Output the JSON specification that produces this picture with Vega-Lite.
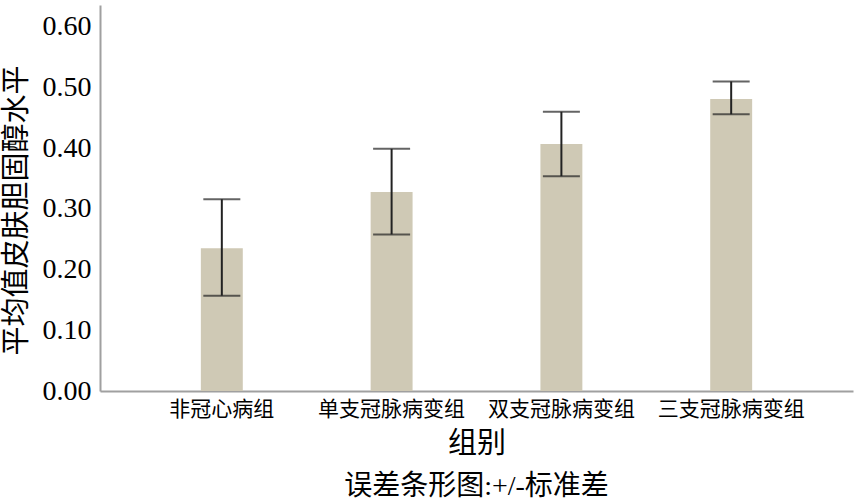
{
  "$schema": "https://vega.github.io/schema/vega-lite/v6.json",
  "width": 753,
  "height": 386,
  "autosize": "none",
  "padding": {"left": 100, "top": 5, "right": 9, "bottom": 113},
  "background": "white",
  "config": {"view": {"stroke": null}},
  "title": {
    "text": "误差条形图:+/-标准差",
    "orient": "bottom",
    "anchor": "middle",
    "font": "Liberation Serif, Noto Sans CJK SC",
    "fontSize": 28,
    "fontWeight": "normal",
    "color": "#000000",
    "offset": 15
  },
  "data": {
    "values": [
      {"组别": "非冠心病组", "mean": 0.235, "lo": 0.157, "hi": 0.316},
      {"组别": "单支冠脉病变组", "mean": 0.328, "lo": 0.258, "hi": 0.399},
      {"组别": "双支冠脉病变组", "mean": 0.407, "lo": 0.354, "hi": 0.46},
      {"组别": "三支冠脉病变组", "mean": 0.481, "lo": 0.456, "hi": 0.51}
    ]
  },
  "encoding": {
    "x": {
      "field": "组别",
      "type": "nominal",
      "sort": null,
      "scale": {"paddingInner": 0.753, "paddingOuter": 0.594},
      "axis": {
        "title": "组别",
        "labelAngle": 0,
        "labelFont": "Liberation Serif, Noto Sans CJK SC",
        "labelFontSize": 21,
        "labelColor": "#000000",
        "labelPadding": 7,
        "ticks": false,
        "domainColor": "#a0a0a0",
        "domainWidth": 2,
        "titleFont": "Liberation Serif, Noto Sans CJK SC",
        "titleFontSize": 29,
        "titleFontWeight": "normal",
        "titleColor": "#000000",
        "titleBaseline": "middle",
        "titleY": 52
      }
    }
  },
  "layer": [
    {
      "mark": {"type": "bar", "color": "#cfc9b5"},
      "encoding": {
        "y": {
          "field": "mean",
          "type": "quantitative",
          "scale": {"domain": [0, 0.636], "nice": false},
          "axis": {
            "title": "平均值皮肤胆固醇水平",
            "values": [0, 0.1, 0.2, 0.3, 0.4, 0.5, 0.6],
            "format": ".2f",
            "grid": false,
            "ticks": false,
            "labelFont": "Liberation Serif",
            "labelFontSize": 28,
            "labelColor": "#000000",
            "labelPadding": 9,
            "domainColor": "#a0a0a0",
            "domainWidth": 2,
            "titleFont": "Liberation Serif, Noto Sans CJK SC",
            "titleFontSize": 29,
            "titleFontWeight": "normal",
            "titleColor": "#000000",
            "titleBaseline": "middle",
            "titleX": -84,
            "titleY": 205
          }
        }
      }
    },
    {
      "mark": {"type": "rule", "color": "#222222", "strokeWidth": 2},
      "encoding": {
        "y": {"field": "lo", "type": "quantitative"},
        "y2": {"field": "hi"}
      }
    },
    {
      "mark": {"type": "tick", "color": "#222222", "thickness": 2, "size": 37, "orient": "horizontal"},
      "encoding": {"y": {"field": "lo", "type": "quantitative"}}
    },
    {
      "mark": {"type": "tick", "color": "#222222", "thickness": 2, "size": 37, "orient": "horizontal"},
      "encoding": {"y": {"field": "hi", "type": "quantitative"}}
    }
  ]
}
